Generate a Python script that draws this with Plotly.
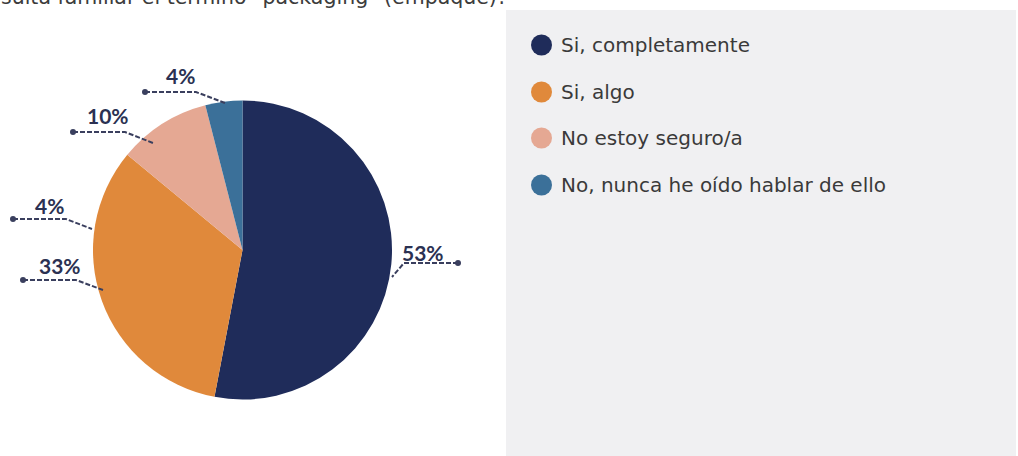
import plotly.graph_objects as go

# Survey answers and their shares (%)
categories = [
    "Si, completamente",
    "Si, algo",
    "No estoy seguro/a",
    "No, nunca he oído hablar de ello",
]
shares = [53, 33, 10, 4]
colors = ["#1f2c5a", "#e0893b", "#e5a893", "#3b7099"]

question = 'sulta familiar el término "packaging" (empaque)?'

W, H = 1018, 456


def fx(x):
    return x / W


def fy(y):
    return 1 - y / H


LABEL_COLOR = "#2b3152"
LINE_COLOR = "#3a3f5e"
LABEL_FONT = "Lato"
TEXT_FONT = "DejaVu Sans"

fig = go.Figure(
    go.Pie(
        labels=categories,
        values=shares,
        marker=dict(colors=colors, line=dict(width=0)),
        sort=False,
        direction="clockwise",
        rotation=0,
        textinfo="none",
        hoverinfo="label+percent",
        showlegend=False,
        domain=dict(x=[fx(93), fx(392)], y=[fy(399.5), fy(100.5)]),
    )
)

shapes = []
annotations = []

# grey panel holding the legend
shapes.append(dict(
    type="rect", xref="paper", yref="paper",
    x0=fx(506), x1=fx(1016), y0=fy(456), y1=fy(10),
    fillcolor="#f0f0f2", line=dict(width=0), layer="below",
))

# legend: coloured dots with the answer text
legend_rows = [45, 92, 138, 185]
for name, col, yy in zip(categories, colors, legend_rows):
    r = 10.5
    shapes.append(dict(
        type="circle", xref="paper", yref="paper",
        x0=fx(541.5 - r), x1=fx(541.5 + r), y0=fy(yy + r), y1=fy(yy - r),
        fillcolor=col, line=dict(width=0),
    ))
    annotations.append(dict(
        xref="paper", yref="paper", x=fx(559), y=fy(yy),
        xanchor="left", yanchor="middle", showarrow=False,
        text=name, font=dict(family=TEXT_FONT, size=20, color="#3a3a3a"),
    ))

# callouts: (text, text centre, dot, elbow, point on the pie edge)
callouts = [
    (f"{shares[0]}%", (423, 252), (458, 263), (404, 263), (392, 277)),
    (f"{shares[1]}%", (60, 265), (23, 280), (76, 280), (103, 290)),
    (f"{shares[3]}%", (49, 205), (13, 219), (66, 219), (92, 229)),
    (f"{shares[2]}%", (108, 115), (73, 132), (125, 132), (153, 143)),
    (f"{shares[3]}%", (180, 76), (145, 92), (196, 92), (225, 103)),
]
for txt, tc, dot, elbow, edge in callouts:
    path = (f"M {fx(dot[0])},{fy(dot[1])} "
            f"L {fx(elbow[0])},{fy(elbow[1])} "
            f"L {fx(edge[0])},{fy(edge[1])}")
    shapes.append(dict(
        type="path", xref="paper", yref="paper", path=path,
        line=dict(color=LINE_COLOR, width=2, dash="5px,2px"),
    ))
    shapes.append(dict(
        type="circle", xref="paper", yref="paper",
        x0=fx(dot[0] - 3), x1=fx(dot[0] + 3),
        y0=fy(dot[1] + 3), y1=fy(dot[1] - 3),
        fillcolor=LINE_COLOR, line=dict(width=0),
    ))
    annotations.append(dict(
        xref="paper", yref="paper", x=fx(tc[0]), y=fy(tc[1]),
        xanchor="center", yanchor="middle", showarrow=False,
        text=f"<b>{txt}</b>", font=dict(family=LABEL_FONT, size=21, color=LABEL_COLOR),
    ))

# question text, partly cut by the top edge
annotations.append(dict(
    xref="paper", yref="paper", x=fx(-1), y=fy(-3),
    xanchor="left", yanchor="middle", showarrow=False,
    text=question, font=dict(family=TEXT_FONT, size=20.5, color="#3c3c3c"),
))

fig.update_layout(
    width=W, height=H,
    margin=dict(l=0, r=0, t=0, b=0),
    paper_bgcolor="white",
    plot_bgcolor="white",
    shapes=shapes,
    annotations=annotations,
)

fig.write_html("out.html")
